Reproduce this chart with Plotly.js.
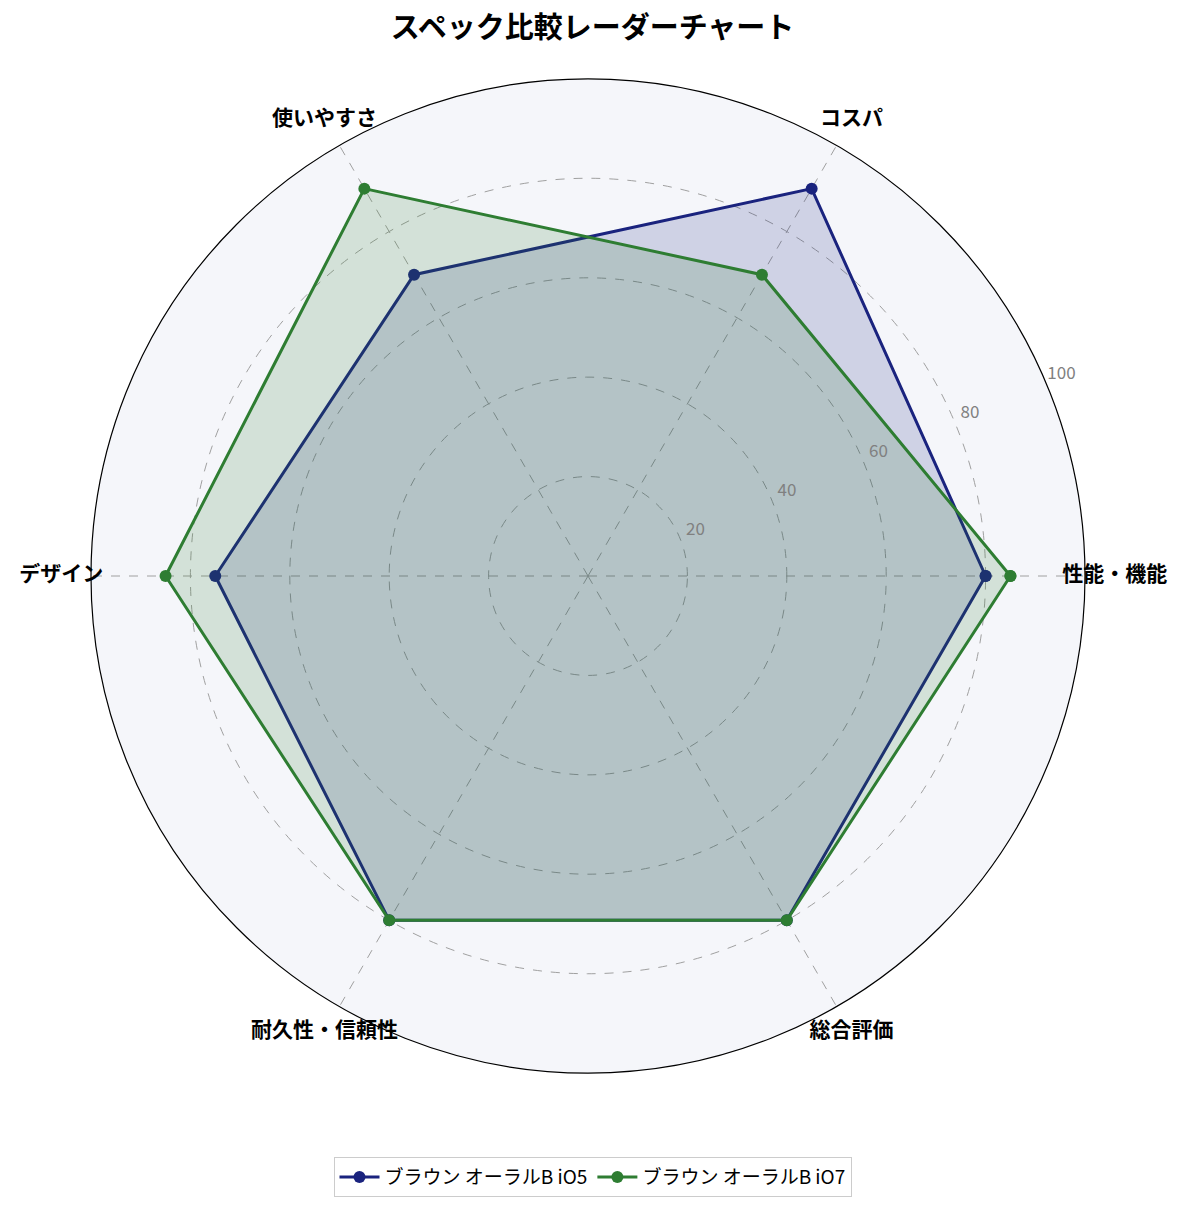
<!DOCTYPE html>
<html>
<head>
<meta charset="utf-8">
<script src="https://cdn.plot.ly/plotly-3.0.1.min.js"></script>
<style>html,body{margin:0;padding:0;background:#fff;}#chart{width:1185px;height:1211px;}</style>
</head>
<body>
<div id="chart"></div>
<script>
const categories = ["性能・機能", "コスパ", "使いやすさ", "デザイン", "耐久性・信頼性", "総合評価"];
const seriesNames = ["ブラウン オーラルB iO5", "ブラウン オーラルB iO7"];
const valuesIO5 = [80, 90, 70, 75, 80, 80];
const valuesIO7 = [85, 70, 90, 85, 80, 80];
const radialTicks = [20, 40, 60, 80, 100];

const FONT = '"Noto Sans CJK JP", "Noto Sans", sans-serif';
const N = categories.length;
const thetas = categories.map((_, i) => i * 360 / N);
const closeLoop = a => a.concat([a[0]]);

// geometry of the main polar area (pixels)
const W = 1185, H = 1211;
const CX = 588, CY = 576, R = 497;
const RMAX = 100;
const OUTER = 1.12; // label layer extends 12% beyond the main circle
function domainFor(scale) {
  const rr = R * scale;
  return {
    x: [(CX - rr) / W, (CX + rr) / W],
    y: [(H - CY - rr) / H, (H - CY + rr) / H]
  };
}

function makeFill(vals, fill) {
  return {
    type: 'scatterpolar', mode: 'none', showlegend: false, hoverinfo: 'skip',
    r: closeLoop(vals), theta: closeLoop(thetas),
    fill: 'toself', fillcolor: fill
  };
}
function makeLine(name, vals, color) {
  return {
    type: 'scatterpolar', mode: 'lines+markers', name: name, hoverinfo: 'skip',
    r: closeLoop(vals), theta: closeLoop(thetas),
    line: {color: color, width: 3},
    marker: {color: color, size: 12}
  };
}

const data = [
  makeFill(valuesIO5, 'rgba(26,35,126,0.17)'),
  makeLine(seriesNames[0], valuesIO5, '#1a237e'),
  makeFill(valuesIO7, 'rgba(46,125,50,0.17)'),
  makeLine(seriesNames[1], valuesIO7, '#2e7d32'),
  {
    type: 'scatterpolar', subplot: 'polar2', mode: 'text', showlegend: false, hoverinfo: 'skip', cliponaxis: false,
    r: categories.map(() => 106), theta: thetas, text: categories,
    textposition: 'middle center',
    textfont: {family: FONT, size: 21, color: '#000', weight: 'bold'}
  },
  {
    type: 'scatterpolar', subplot: 'polar2', mode: 'text', showlegend: false, hoverinfo: 'skip', cliponaxis: false,
    r: radialTicks.map(v => v + 3.5), theta: radialTicks.map(() => 23), text: radialTicks.map(String),
    textposition: 'middle center',
    textfont: {family: FONT, size: 17, color: '#808080'}
  }
];

const hiddenAxis = {visible: false, showgrid: false, showline: false, showticklabels: false, ticks: ''};

const layout = {
  width: W, height: H,
  margin: {l: 0, r: 0, t: 0, b: 0},
  paper_bgcolor: '#ffffff',
  font: {family: FONT, color: '#000'},
  title: {text: '<b>スペック比較レーダーチャート</b>', x: 0.5, xanchor: 'center', y: 0.977, yanchor: 'middle',
          font: {family: FONT, size: 29, color: '#000'}},
  showlegend: true,
  legend: {orientation: 'h', x: 0.5, xanchor: 'center', y: 0.028, yanchor: 'middle',
           bordercolor: '#cccccc', borderwidth: 1, bgcolor: '#ffffff', itemwidth: 40,
           font: {family: FONT, size: 19, color: '#000'}},
  polar: {
    domain: domainFor(1),
    bgcolor: '#f5f6fa',
    radialaxis: {
      range: [0, RMAX], tickvals: radialTicks, showticklabels: false,
      angle: 22.5, showline: false, ticks: '',
      gridcolor: '#a0a0a0', griddash: 'dash', gridwidth: 0.8
    },
    angularaxis: {
      type: 'linear', thetaunit: 'degrees',
      direction: 'counterclockwise', rotation: 0,
      tickvals: thetas, showticklabels: false,
      showline: true, linecolor: '#000000', linewidth: 1.2,
      gridcolor: '#a0a0a0', griddash: 'dash', gridwidth: 0.8, ticks: ''
    }
  },
  polar2: {
    domain: domainFor(OUTER),
    bgcolor: 'rgba(0,0,0,0)',
    radialaxis: Object.assign({range: [0, RMAX * OUTER]}, hiddenAxis),
    angularaxis: Object.assign({type: 'linear', thetaunit: 'degrees', direction: 'counterclockwise', rotation: 0}, hiddenAxis)
  }
};

Plotly.newPlot('chart', data, layout, {displayModeBar: false});
</script>
</body>
</html>
